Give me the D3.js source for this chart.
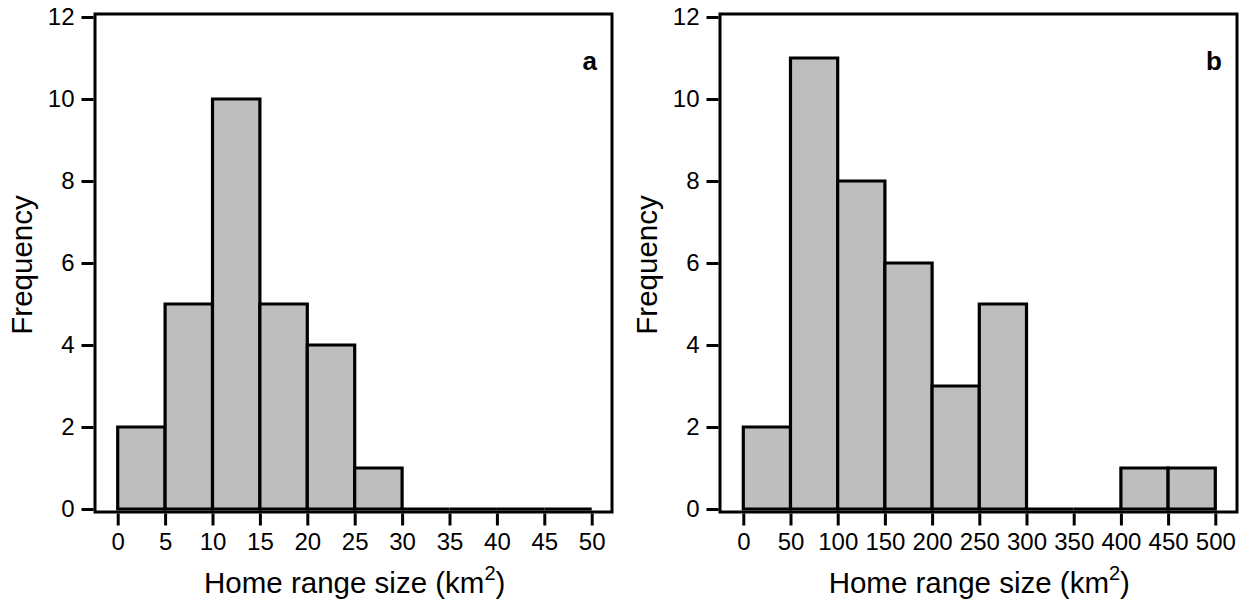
<!DOCTYPE html>
<html>
<head>
<meta charset="utf-8">
<script src="https://cdn.jsdelivr.net/npm/d3@7"></script>
<style>
  body { margin: 0; background: #fff; }
  text { font-family: "Liberation Sans", Arial, sans-serif; fill: #000; }
</style>
</head>
<body>
<svg width="1245" height="604"></svg>
<script>
// histogram a
const edgesA = [0, 5, 10, 15, 20, 25, 30, 35, 40, 45, 50];
const countsA = [2, 5, 10, 5, 4, 1, 0, 0, 0, 0];
// histogram b
const edgesB = [0, 50, 100, 150, 200, 250, 300, 350, 400, 450, 500];
const countsB = [2, 11, 8, 6, 3, 5, 0, 0, 1, 1];

const yTicks = [0, 2, 4, 6, 8, 10, 12];
const xLabel = "Home range size (km";
const yLabel = "Frequency";

const svg = d3.select("svg");

function drawPanel(edges, counts, letter, area) {
  const g = svg.append("g");

  const scX = d3.scaleLinear()
    .domain([edges[0], edges[edges.length - 1]])
    .range([area.x0, area.x1]);
  const scY = d3.scaleLinear().domain([0, 12]).range([509, 17]);

  const bins = counts.map((c, i) => ({ from: edges[i], to: edges[i + 1], n: c }));

  // bars as paths, so that empty bins still show as a flat line
  g.selectAll(".bar")
    .data(bins)
    .enter()
    .append("path")
    .attr("class", "bar")
    .attr("d", (d) => {
      const x0 = scX(d.from), x1 = scX(d.to), y0 = scY(0), y1 = scY(d.n);
      return `M${x0},${y0}V${y1}H${x1}V${y0}Z`;
    })
    .style("fill", "#bebebe")
    .style("stroke", "#000")
    .style("stroke-width", 3.2)
    .style("stroke-linejoin", "miter");

  // frame
  g.append("rect")
    .attr("x", area.left)
    .attr("y", 14)
    .attr("width", area.right - area.left)
    .attr("height", 512 - 14)
    .style("fill", "none")
    .style("stroke", "#000")
    .style("stroke-width", 3);

  const axisY = d3.axisLeft(scY).tickValues(yTicks).tickSize(12).tickSizeOuter(0).tickPadding(7);
  const gy = g.append("g")
    .attr("transform", `translate(${area.left - 1.5},0)`)
    .call(axisY);
  gy.select(".domain").remove();
  gy.selectAll("line").style("stroke-width", 3);
  gy.selectAll("text").style("font-size", "24px").attr("font-family", null);

  const axisX = d3.axisBottom(scX).tickValues(edges).tickSize(12).tickSizeOuter(0).tickPadding(7);
  const gx = g.append("g")
    .attr("transform", `translate(0,${512 + 1.5})`)
    .call(axisX);
  gx.select(".domain").remove();
  gx.selectAll("line").style("stroke-width", 3);
  gx.selectAll("text").style("font-size", "24px").attr("font-family", null);

  const t = g.append("text")
    .attr("x", (area.x0 + area.x1) / 2)
    .attr("y", 593)
    .attr("text-anchor", "middle")
    .style("font-size", "29.5px")
    .text(xLabel);
  t.append("tspan").attr("dy", -13).style("font-size", "20px").text("2");
  t.append("tspan").attr("dy", 13).text(")");

  g.append("text")
    .attr("transform", `translate(${area.left - 63},265) rotate(-90)`)
    .attr("text-anchor", "middle")
    .style("font-size", "29.5px")
    .text(yLabel);

  g.append("text")
    .attr("x", area.right - 15)
    .attr("y", 70)
    .attr("text-anchor", "end")
    .style("font-size", "26px")
    .style("font-weight", "bold")
    .text(letter);
}

drawPanel(edgesA, countsA, "a", { left: 95, right: 612, x0: 117.7, x1: 591.7 });
drawPanel(edgesB, countsB, "b", { left: 720, right: 1237, x0: 743.3, x1: 1215.3 });
</script>
</body>
</html>
